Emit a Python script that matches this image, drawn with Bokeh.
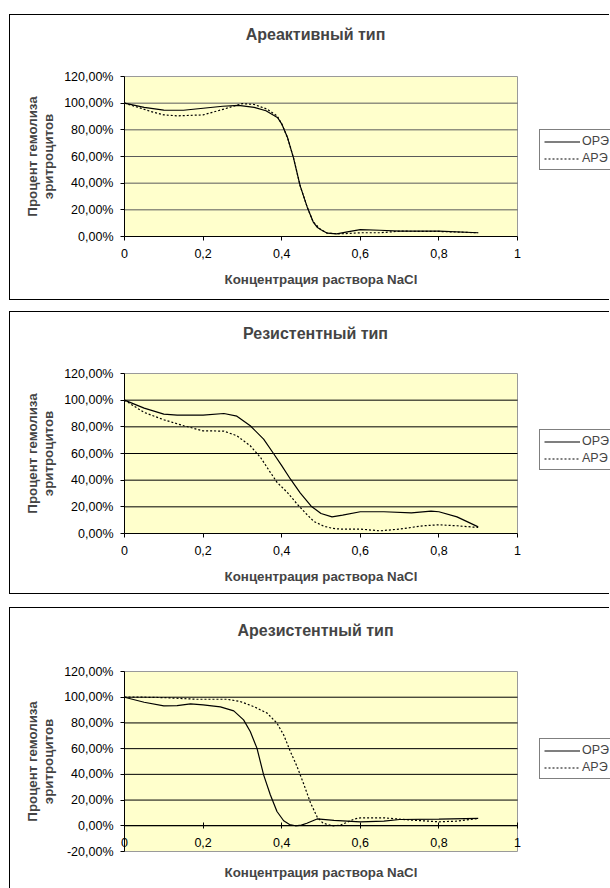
import math
from bokeh.plotting import figure
from bokeh.layouts import column
from bokeh.models import (Range1d, FixedTicker, CustomJSTickFormatter, Label,
                          Legend, LegendItem)
from bokeh.embed import file_html
from bokeh.resources import INLINE

FONT = "Liberation Sans"

# ---- data ----
titles = ["Ареактивный тип", "Резистентный тип", "Арезистентный тип"]
x_title = "Концентрация раствора NaCl"
y_title_lines = ["Процент гемолиза", "эритроцитов"]
series_names = ["ОРЭ", "АРЭ"]

ore1_x = [0, 0.05, 0.1, 0.15, 0.2, 0.25, 0.29, 0.33, 0.36, 0.39, 0.40, 0.415, 0.43,
          0.447, 0.465, 0.48, 0.49, 0.5, 0.516, 0.54, 0.567, 0.6, 0.65, 0.7, 0.8, 0.9]
ore1_y = [100, 96.8, 94.8, 94.7, 96.2, 97.7, 98.3, 96.8, 94.3, 89, 84.5, 74, 59,
          38, 22, 11, 7, 5, 2.5, 2, 3.5, 5.2, 4.7, 4, 4, 2.8]
are1_x = [0, 0.033, 0.066, 0.1, 0.134, 0.2, 0.244, 0.3, 0.33, 0.363, 0.388, 0.4, 0.415,
          0.43, 0.447, 0.465, 0.48, 0.5, 0.516, 0.55, 0.6, 0.65, 0.7, 0.8, 0.9]
are1_y = [100, 97, 93.8, 91.2, 90.5, 91.2, 94.8, 99.7, 99, 95.5, 90.5, 84.5, 74,
          59, 38, 22, 11, 5, 2.5, 2, 2.8, 2.8, 4, 3.8, 2.8]

ore2_x = [0, 0.05, 0.1, 0.134, 0.2, 0.253, 0.286, 0.32, 0.354, 0.38, 0.4, 0.422,
          0.447, 0.475, 0.5, 0.528, 0.555, 0.6, 0.66, 0.73, 0.78, 0.8, 0.846, 0.9]
ore2_y = [100, 94, 89.5, 88.8, 88.8, 90, 88, 80.8, 70.8, 59.6, 50.9, 40.9,
          30.5, 20.5, 15, 12.5, 13.8, 16.3, 16.3, 15.5, 16.8, 16.3, 12.5, 5]
are2_x = [0, 0.05, 0.1, 0.151, 0.2, 0.253, 0.286, 0.32, 0.346, 0.371, 0.388, 0.414,
          0.439, 0.46, 0.482, 0.507, 0.53, 0.55, 0.6, 0.65, 0.7, 0.76, 0.8, 0.846, 0.9]
are2_y = [100, 90.8, 85.3, 80.8, 77, 76.8, 73.3, 65.8, 57.1, 45.9, 38.4, 30.9,
          22.2, 15.5, 9, 5.5, 3.8, 3.3, 3.3, 2, 3.3, 5.8, 6.5, 5.8, 4.5]

ore3_x = [0, 0.05, 0.1, 0.134, 0.168, 0.2, 0.244, 0.278, 0.303, 0.32, 0.337, 0.354,
          0.371, 0.388, 0.405, 0.42, 0.435, 0.45, 0.464, 0.49, 0.533, 0.6, 0.66, 0.7,
          0.8, 0.9]
ore3_y = [100, 96.1, 93.3, 93.5, 94.8, 94, 92.5, 89.4, 82.4, 73.3, 60.4, 39.6,
          24.1, 11.1, 3.9, 1, 0, 0.5, 2, 5.3, 4.2, 3.1, 3.6, 4.9, 5.2, 5.7]
are3_x = [0, 0.05, 0.1, 0.185, 0.261, 0.295, 0.329, 0.363, 0.388, 0.405, 0.422,
          0.439, 0.456, 0.473, 0.49, 0.505, 0.53, 0.55, 0.584, 0.6, 0.66, 0.73, 0.8,
          0.846, 0.9]
are3_y = [100, 100, 99.7, 98.4, 98.4, 96.6, 92.7, 87.6, 79.8, 70.7, 57.8,
          46.1, 32.5, 18, 7, 2, 0, 0.5, 5.2, 6.2, 6.2, 4.4, 3.1, 3.6, 5.7]

x_ticks = [0, 0.2, 0.4, 0.6, 0.8, 1.0]
y_ticks_a = [0, 20, 40, 60, 80, 100, 120]
y_ticks_c = [-20, 0, 20, 40, 60, 80, 100, 120]

# ---- layout constants (pixels) ----
W = 600            # canvas width
AX_LEFT = 114      # plot-area left inside canvas
AX_W = 393         # plot-area width


def make_chart(title, ox, oy, ax_, ay, yticks, margin_top, height, top_px, area_h,
               title_y, xt_y, yl_y, leg_y, border_bottom=True, grid_color="#000000",
               crossing=False):
    # the frame covers the whole canvas; the plot area [0,1] x [ymin,ymax] sits inside
    ymin, ymax = yticks[0], yticks[-1]
    per_px_y = (ymax - ymin) / area_h
    per_px_x = (x_ticks[-1] - x_ticks[0]) / AX_W
    yr_top = ymax + top_px * per_px_y
    yr_bot = yr_top - height * per_px_y
    xr_left = x_ticks[0] - AX_LEFT * per_px_x
    xr_right = xr_left + W * per_px_x

    p = figure(width=W, height=height, output_backend="svg", toolbar_location=None,
               x_range=Range1d(xr_left, xr_right), y_range=Range1d(yr_bot, yr_top),
               min_border=0, background_fill_color="white",
               border_fill_color="white", margin=(margin_top, 0, 0, 9))
    st = {"border-top": "1px solid #000", "border-left": "1px solid #000"}
    if border_bottom:
        st["border-bottom"] = "1px solid #000"
    p.styles = st
    p.outline_line_color = None
    p.xgrid.visible = False
    p.ygrid.visible = False

    # plot area
    p.quad(left=x_ticks[0], right=x_ticks[-1], bottom=ymin, top=ymax,
           fill_color="#FFFFCC", line_color="#9a9a9a", line_width=1)
    gv = yticks[1:-1]
    p.segment(x0=[x_ticks[0]] * len(gv), x1=[x_ticks[-1]] * len(gv), y0=gv, y1=gv,
              line_color=grid_color, line_width=1)

    for ax in (p.xaxis[0], p.yaxis[0]):
        ax.fixed_location = 0
        ax.axis_line_color = "black"
        ax.major_tick_line_color = "black"
        ax.minor_tick_line_color = None
        ax.major_label_text_font = FONT
        ax.major_label_text_font_size = "12.5px"
        ax.major_label_text_color = "black"
    p.xaxis.ticker = FixedTicker(ticks=x_ticks)
    p.xaxis.bounds = (x_ticks[0], x_ticks[-1])
    p.xaxis.formatter = CustomJSTickFormatter(
        code="return (Math.round(tick*10)/10).toString().replace('.', ',');")
    p.yaxis.ticker = FixedTicker(ticks=yticks)
    p.yaxis.bounds = (ymin, ymax)
    p.yaxis.formatter = CustomJSTickFormatter(
        code="return tick.toFixed(2).replace('.', ',') + '%';")
    p.yaxis.major_tick_out = 4
    p.yaxis.major_tick_in = 0
    p.yaxis.major_label_standoff = 7
    if crossing:
        p.xaxis.major_tick_out = 3
        p.xaxis.major_tick_in = 3
        p.xaxis.major_label_standoff = 9
    else:
        p.xaxis.major_tick_out = 4
        p.xaxis.major_tick_in = 0
        p.xaxis.major_label_standoff = 8

    r1 = p.line(ox, oy, line_color="black", line_width=1.2)
    r2 = p.line(ax_, ay, line_color="black", line_width=1.2, line_dash="2 2")

    legend = Legend(items=[LegendItem(label=series_names[0], renderers=[r1]),
                           LegendItem(label=series_names[1], renderers=[r2])],
                    location=(529, leg_y), orientation="vertical",
                    border_line_color="black", border_line_width=1,
                    background_fill_color="white", background_fill_alpha=1,
                    label_text_font=FONT, label_text_font_size="12.5px",
                    glyph_width=36, glyph_height=13, label_height=13,
                    label_standoff=2, spacing=3, padding=4, margin=0)
    p.add_layout(legend)

    p.add_layout(Label(x=305, y=title_y, x_units="screen", y_units="screen",
                       text=title, text_font=FONT, text_font_size="16px",
                       text_font_style="bold", text_align="center",
                       text_baseline="middle"))
    p.add_layout(Label(x=AX_LEFT + AX_W / 2, y=xt_y, x_units="screen",
                       y_units="screen", text=x_title, text_font=FONT,
                       text_font_size="13.3px", text_font_style="bold",
                       text_align="center", text_baseline="middle"))
    for txt, xx in zip(y_title_lines, (22, 38)):
        p.add_layout(Label(x=xx, y=yl_y, x_units="screen", y_units="screen",
                           text=txt, angle=math.pi / 2, text_font=FONT,
                           text_font_size="13.3px", text_font_style="bold",
                           text_align="center", text_baseline="middle"))
    return p


p1 = make_chart(titles[0], ore1_x, ore1_y, are1_x, are1_y, y_ticks_a, 14, 286, 61, 160,
                title_y=267, xt_y=22, yl_y=145, leg_y=131, grid_color="#5a5a5a")
p2 = make_chart(titles[1], ore2_x, ore2_y, are2_x, are2_y, y_ticks_a, 11, 283, 61, 160,
                title_y=262, xt_y=19, yl_y=142, leg_y=125)
p3 = make_chart(titles[2], ore3_x, ore3_y, are3_x, are3_y, y_ticks_c, 13, 281, 63, 180,
                title_y=259, xt_y=17, yl_y=128, leg_y=110, border_bottom=False,
                crossing=True)

layout = column(p1, p2, p3, spacing=0)
open("out.html", "w").write(file_html(layout, INLINE))
